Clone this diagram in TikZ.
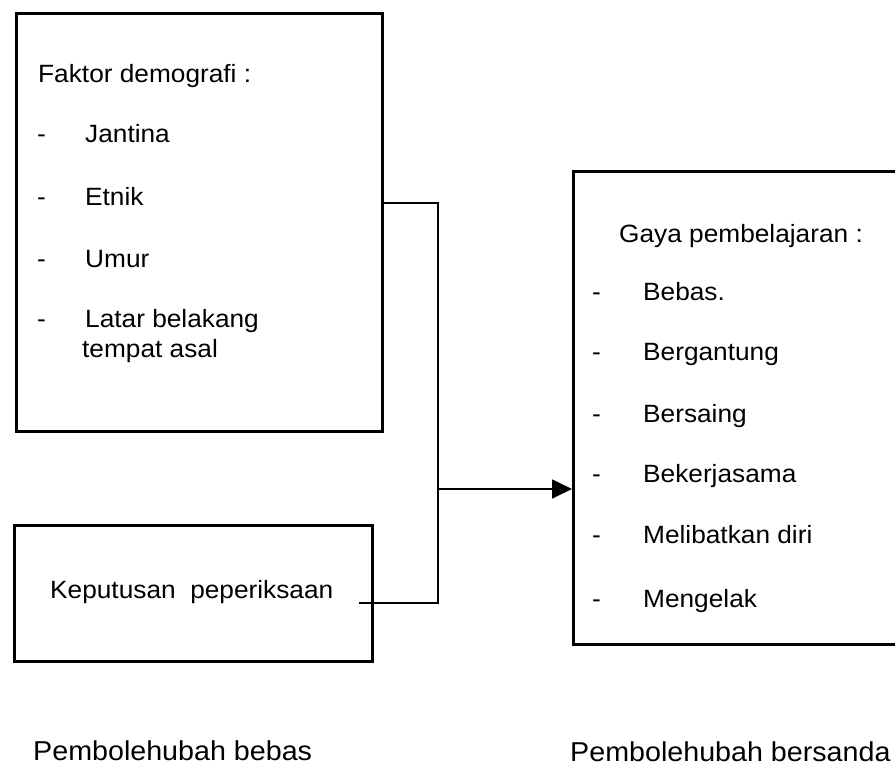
\documentclass[tikz,border=0pt]{standalone}
\usepackage{fontspec}
\setmainfont{Liberation Sans}[FakeStretch=1.05]
\usetikzlibrary{arrows.meta}
\begin{document}
\begin{tikzpicture}[x=1pt,y=-1pt,
  box/.style={draw, line width=3pt, inner sep=0pt, anchor=north west},
  txt/.style={anchor=base west, inner sep=0pt, font=\fontsize{25}{30}\selectfont},
  lbl/.style={anchor=base west, inner sep=0pt, font=\fontsize{27.3}{33}\selectfont},
  conn/.style={line width=1.8pt}]
\useasboundingbox (0,0) rectangle (895,765);
\clip (0,0) rectangle (895,765);
% boxes
\node[box, minimum width=366pt, minimum height=418pt] (b1) at (15,12) {};
\node[box, minimum width=358pt, minimum height=136pt] (b2) at (13,524) {};
\node[box, minimum width=340pt, minimum height=473pt] (b3) at (572,170) {};
% box 1 texts
\node[txt] (t1) at (38,83) {Faktor demografi :};
\node[txt] (t2) at (37,143) {\makebox[48pt][l]{-}Jantina};
\node[txt] (t3) at (37,205) {\makebox[48pt][l]{-}Etnik};
\node[txt] (t4) at (37,267) {\makebox[48pt][l]{-}Umur};
\node[txt] (t5) at (37,327) {\makebox[48pt][l]{-}Latar belakang};
\node[txt] (t6) at (82,357) {tempat asal};
% box 2 text
\node[txt] (k1) at (50,598) {Keputusan\ \ peperiksaan};
% box 3 texts
\node[txt] (g0) at (619,242) {Gaya pembelajaran :};
\node[txt] (g1) at (592,300) {\makebox[51pt][l]{-}Bebas.};
\node[txt] (g2) at (592,360) {\makebox[51pt][l]{-}Bergantung};
\node[txt] (g3) at (592,422) {\makebox[51pt][l]{-}Bersaing};
\node[txt] (g4) at (592,482) {\makebox[51pt][l]{-}Bekerjasama};
\node[txt] (g5) at (592,543) {\makebox[51pt][l]{-}Melibatkan diri};
\node[txt] (g6) at (592,607) {\makebox[51pt][l]{-}Mengelak};
% bottom labels
\node[lbl] (l1) at (33,760) {Pembolehubah bebas};
\node[lbl] (l2) at (570,761) {Pembolehubah bersanda};
% connectors
\coordinate (ja) at (438,203);
\coordinate (jb) at (438,489);
\coordinate (jc) at (438,603);
\coordinate (ks) at (359,603);
\draw[conn] (b1.east |- ja) -- (ja) -- (jc) -- (ks);
\draw[conn, -{Triangle[length=20pt,width=19pt]}] (jb) -- (b3.west |- jb);
\end{tikzpicture}
\end{document}
